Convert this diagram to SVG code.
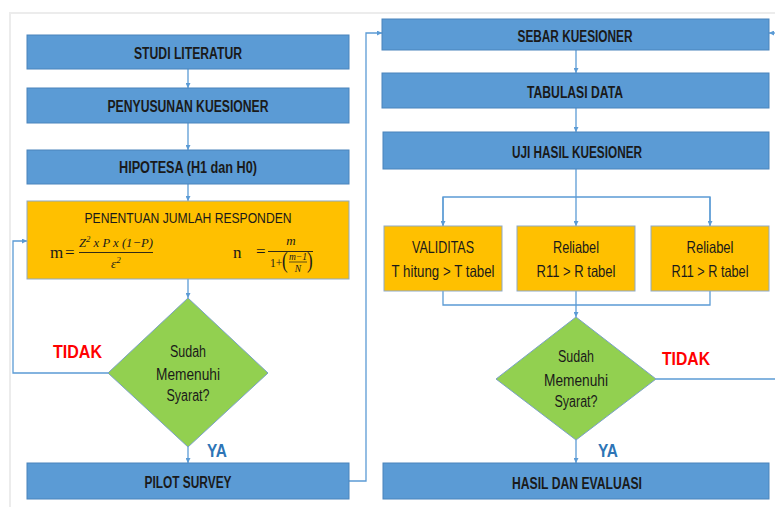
<svg xmlns="http://www.w3.org/2000/svg" width="775" height="507" viewBox="0 0 775 507">
  <defs>
    <marker id="arr" viewBox="0 0 10 10" refX="10" refY="5" markerWidth="5" markerHeight="5" orient="auto" markerUnits="userSpaceOnUse">
      <path d="M0,0 L10,5 L0,10 z" fill="#5B9BD5"/>
    </marker>
    <style>
      .blue { fill: #5B9BD5; stroke: #4A84BC; stroke-width: 1; }
      .orange { fill: #FFC000; stroke: #8EA9C8; stroke-width: 1; }
      .green { fill: #92D050; stroke: #7AA0C8; stroke-width: 1; }
      .lbl { font-family: "Liberation Sans Narrow", "Liberation Sans", Arial, sans-serif; fill: #1A1A1A; text-anchor: middle; }
      .b { font-weight: bold; font-size: 16px; }
      .r { font-size: 16.5px; }
      .d { font-size: 16px; }
      .math { font-family: "Liberation Serif", "DejaVu Serif", serif; fill: #1A1A1A; }
      .it { font-style: italic; }
      .tag { font-family: "Liberation Sans Narrow", "Liberation Sans", Arial, sans-serif; font-weight: bold; font-size: 19px; }
      .conn { fill: none; stroke: #5B9BD5; stroke-width: 1.3; }
    </style>
  </defs>

  <rect width="775" height="507" fill="#FFFFFF"/>
  <!-- page frame -->
  <path d="M10,507 V13 H775" fill="none" stroke="#ECECEC" stroke-width="2"/>

  <!-- connectors -->
  <g id="connectors">
    <path class="conn" d="M188,69 V88" marker-end="url(#arr)"/>
    <path class="conn" d="M188,123 V150" marker-end="url(#arr)"/>
    <path class="conn" d="M188,184 V201" marker-end="url(#arr)"/>
    <path class="conn" d="M188,279 V298" marker-end="url(#arr)"/>
    <path class="conn" d="M188,447 V463" marker-end="url(#arr)"/>
    <path class="conn" d="M108,373 H13 V241 H27" marker-end="url(#arr)"/>
    <path class="conn" d="M349,481 H366 V33 H382" marker-end="url(#arr)"/>
    <path class="conn" d="M576,50 V73" marker-end="url(#arr)"/>
    <path class="conn" d="M576,108 V132" marker-end="url(#arr)"/>
    <path class="conn" d="M576,169 V226" marker-end="url(#arr)"/>
    <path class="conn" d="M443,226 V197 H710 V226" />
    <path class="conn" d="M443,197 V226" marker-end="url(#arr)"/>
    <path class="conn" d="M710,197 V226" marker-end="url(#arr)"/>
    <path class="conn" d="M443,291 V305 H710 V291"/>
    <path class="conn" d="M576,291 V317" marker-end="url(#arr)"/>
    <path class="conn" d="M576,440 V463" marker-end="url(#arr)"/>
    <path class="conn" d="M656,379 H775"/>
    <path class="conn" d="M776,33 H769" marker-end="url(#arr)"/>
  </g>

  <!-- left column -->
  <g id="studi-literatur">
    <rect class="blue" x="27" y="35" width="322" height="34"/>
    <text class="lbl b" x="188" y="58.5" textLength="108" lengthAdjust="spacingAndGlyphs">STUDI LITERATUR</text>
  </g>
  <g id="penyusunan-kuesioner">
    <rect class="blue" x="27" y="88" width="322" height="35"/>
    <text class="lbl b" x="188" y="112" textLength="161" lengthAdjust="spacingAndGlyphs">PENYUSUNAN KUESIONER</text>
  </g>
  <g id="hipotesa">
    <rect class="blue" x="27" y="150" width="322" height="34"/>
    <text class="lbl b" x="188" y="172.5" textLength="138" lengthAdjust="spacingAndGlyphs">HIPOTESA (H1 dan H0)</text>
  </g>
  <g id="penentuan-responden">
    <rect class="orange" x="27" y="201" width="322" height="78"/>
    <text class="lbl" x="188" y="223" font-size="15.5" textLength="207" lengthAdjust="spacingAndGlyphs">PENENTUAN JUMLAH RESPONDEN</text>
    <!-- m = Z^2 x P x (1-P) / e^2 -->
    <text class="math" x="50" y="258" font-size="17">m</text>
    <text class="math" x="65" y="258" font-size="17">=</text>
    <text class="math it" x="116" y="247" font-size="13" text-anchor="middle" textLength="74" lengthAdjust="spacingAndGlyphs">Z<tspan font-size="9" dy="-5">2</tspan><tspan dy="5"> x P x (1−P)</tspan></text>
    <line x1="79" y1="252.5" x2="153" y2="252.5" stroke="#1A1A1A" stroke-width="0.9"/>
    <text class="math it" x="111" y="268" font-size="13">ε<tspan font-size="9" dy="-5">2</tspan></text>
    <!-- n = m / (1 + (m-1)/N) -->
    <text class="math" x="233" y="258" font-size="17">n</text>
    <text class="math" x="256" y="257" font-size="17">=</text>
    <text class="math it" x="291" y="245" font-size="13" text-anchor="middle">m</text>
    <line x1="268" y1="251.5" x2="313" y2="251.5" stroke="#1A1A1A" stroke-width="0.9"/>
    <text class="math" x="270" y="267" font-size="11.5">1+</text>
    <text class="math" x="282" y="268" font-size="17" transform="translate(282 268) scale(1 1.3) translate(-282 -268)">(</text>
    <text class="math it" x="298" y="260" font-size="9.5" text-anchor="middle">m−1</text>
    <line x1="289" y1="262" x2="307" y2="262" stroke="#1A1A1A" stroke-width="0.7"/>
    <text class="math it" x="298" y="271.5" font-size="9.5" text-anchor="middle">N</text>
    <text class="math" x="307" y="268" font-size="17" transform="translate(307 268) scale(1 1.3) translate(-307 -268)">)</text>
  </g>
  <g id="cek-syarat-1">
    <polygon class="green" points="188,298 268,373 188,447 108,373"/>
    <text class="lbl d" x="188" y="357" textLength="36" lengthAdjust="spacingAndGlyphs">Sudah</text>
    <text class="lbl d" x="188" y="380" textLength="64" lengthAdjust="spacingAndGlyphs">Memenuhi</text>
    <text class="lbl d" x="188" y="401" textLength="43" lengthAdjust="spacingAndGlyphs">Syarat?</text>
  </g>
  <text class="tag" x="53" y="358" fill="#FF0000" textLength="49" lengthAdjust="spacingAndGlyphs">TIDAK</text>
  <text class="tag" x="207" y="457" fill="#2E75B6" textLength="20" lengthAdjust="spacingAndGlyphs">YA</text>
  <g id="pilot-survey">
    <rect class="blue" x="27" y="463" width="322" height="36"/>
    <text class="lbl b" x="188" y="487.5" textLength="87" lengthAdjust="spacingAndGlyphs">PILOT SURVEY</text>
  </g>

  <!-- right column -->
  <g id="sebar-kuesioner">
    <rect class="blue" x="382" y="19" width="387" height="31"/>
    <text class="lbl b" x="575" y="41.5" textLength="115" lengthAdjust="spacingAndGlyphs">SEBAR KUESIONER</text>
  </g>
  <g id="tabulasi-data">
    <rect class="blue" x="382" y="73" width="387" height="35"/>
    <text class="lbl b" x="575" y="98" textLength="96" lengthAdjust="spacingAndGlyphs">TABULASI DATA</text>
  </g>
  <g id="uji-hasil-kuesioner">
    <rect class="blue" x="383" y="132" width="386" height="37"/>
    <text class="lbl b" x="577" y="157.5" textLength="130" lengthAdjust="spacingAndGlyphs">UJI HASIL KUESIONER</text>
  </g>
  <g id="validitas">
    <rect class="orange" x="384" y="226" width="118" height="65"/>
    <text class="lbl r" x="443" y="253" textLength="62" lengthAdjust="spacingAndGlyphs">VALIDITAS</text>
    <text class="lbl r" x="443" y="276.5" textLength="103" lengthAdjust="spacingAndGlyphs">T hitung &gt; T tabel</text>
  </g>
  <g id="reliabel-1">
    <rect class="orange" x="517" y="226" width="118" height="65"/>
    <text class="lbl r" x="576" y="253" textLength="46" lengthAdjust="spacingAndGlyphs">Reliabel</text>
    <text class="lbl r" x="576" y="276.5" textLength="79" lengthAdjust="spacingAndGlyphs">R11 &gt; R tabel</text>
  </g>
  <g id="reliabel-2">
    <rect class="orange" x="651" y="226" width="118" height="65"/>
    <text class="lbl r" x="710" y="253" textLength="47" lengthAdjust="spacingAndGlyphs">Reliabel</text>
    <text class="lbl r" x="710" y="276.5" textLength="77" lengthAdjust="spacingAndGlyphs">R11 &gt; R tabel</text>
  </g>
  <g id="cek-syarat-2">
    <polygon class="green" points="576,317 656,379 576,440 496,379"/>
    <text class="lbl d" x="576" y="362" textLength="36" lengthAdjust="spacingAndGlyphs">Sudah</text>
    <text class="lbl d" x="576" y="386" textLength="64" lengthAdjust="spacingAndGlyphs">Memenuhi</text>
    <text class="lbl d" x="576" y="407" textLength="43" lengthAdjust="spacingAndGlyphs">Syarat?</text>
  </g>
  <text class="tag" x="662" y="365" fill="#FF0000" textLength="48" lengthAdjust="spacingAndGlyphs">TIDAK</text>
  <text class="tag" x="598" y="457" fill="#2E75B6" textLength="20" lengthAdjust="spacingAndGlyphs">YA</text>
  <g id="hasil-evaluasi">
    <rect class="blue" x="383" y="463" width="386" height="36"/>
    <text class="lbl b" x="577" y="488.5" textLength="130" lengthAdjust="spacingAndGlyphs">HASIL DAN EVALUASI</text>
  </g>
</svg>
